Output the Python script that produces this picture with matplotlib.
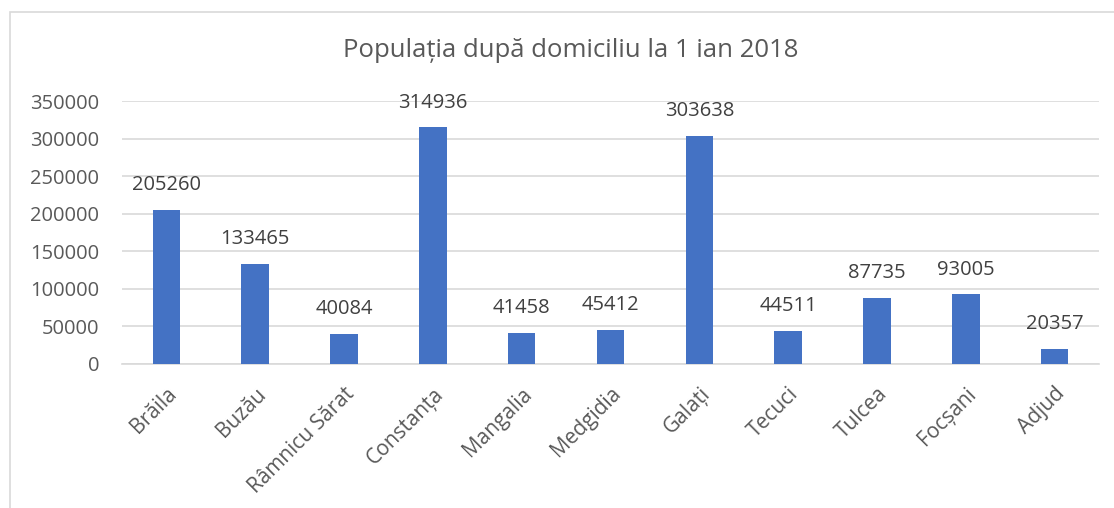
import matplotlib.pyplot as plt
from matplotlib.patches import Rectangle

# date
orase = ['Brăila', 'Buzău', 'Râmnicu Sărat', 'Constanța', 'Mangalia', 'Medgidia',
         'Galați', 'Tecuci', 'Tulcea', 'Focșani', 'Adjud']
populatie = [205260, 133465, 40084, 314936, 41458, 45412, 303638, 44511, 87735, 93005, 20357]
yticks = [0, 50000, 100000, 150000, 200000, 250000, 300000, 350000]

plt.rcParams['font.family'] = ['Open Sans', 'DejaVu Sans']
text_col = '#595959'
grid_col = '#D9D9D9'

fig = plt.figure(figsize=(11.14, 5.08), dpi=100)
ax = fig.add_axes([0.1095, 0.2835, 0.877, 0.5175])

x = range(len(orase))
bars = ax.bar(x, populatie, width=0.31, color='#4472C4', zorder=3)

# etichete de date deasupra barelor
for xi, v in zip(x, populatie):
    ax.annotate(str(v), (xi, v), xytext=(0, 10.5), textcoords='offset points',
                ha='center', va='bottom', fontsize=14.5, color='#404040')

ax.set_xlim(-0.5, len(orase) - 0.5)
ax.set_ylim(0, 350000)
ax.set_yticks(yticks)
ax.set_yticklabels([str(t) for t in yticks])
ax.yaxis.grid(True, color=grid_col, linewidth=1.2, zorder=0)
ax.set_xticks(list(x))
ax.set_xticklabels(orase, rotation=45, ha='right', rotation_mode='anchor')

ax.tick_params(axis='y', length=0, labelsize=14.5, labelcolor=text_col, pad=16.5)
ax.tick_params(axis='x', length=0, labelsize=15, labelcolor=text_col, pad=14)
for s in ['top', 'right', 'left']:
    ax.spines[s].set_visible(False)
ax.spines['bottom'].set_color(grid_col)
ax.spines['bottom'].set_linewidth(1.2)

fig.text(0.512, 0.9, 'Populația după domiciliu la 1 ian 2018', ha='center', va='center',
         fontsize=18.5, color=text_col)

# chenar
fig.patches.append(Rectangle((10 / 1114, -0.05), 1.2, 1 - 12 / 508 + 0.05,
                             transform=fig.transFigure, fill=False,
                             edgecolor=grid_col, linewidth=1.2))

plt.savefig('out.png', dpi=100)
